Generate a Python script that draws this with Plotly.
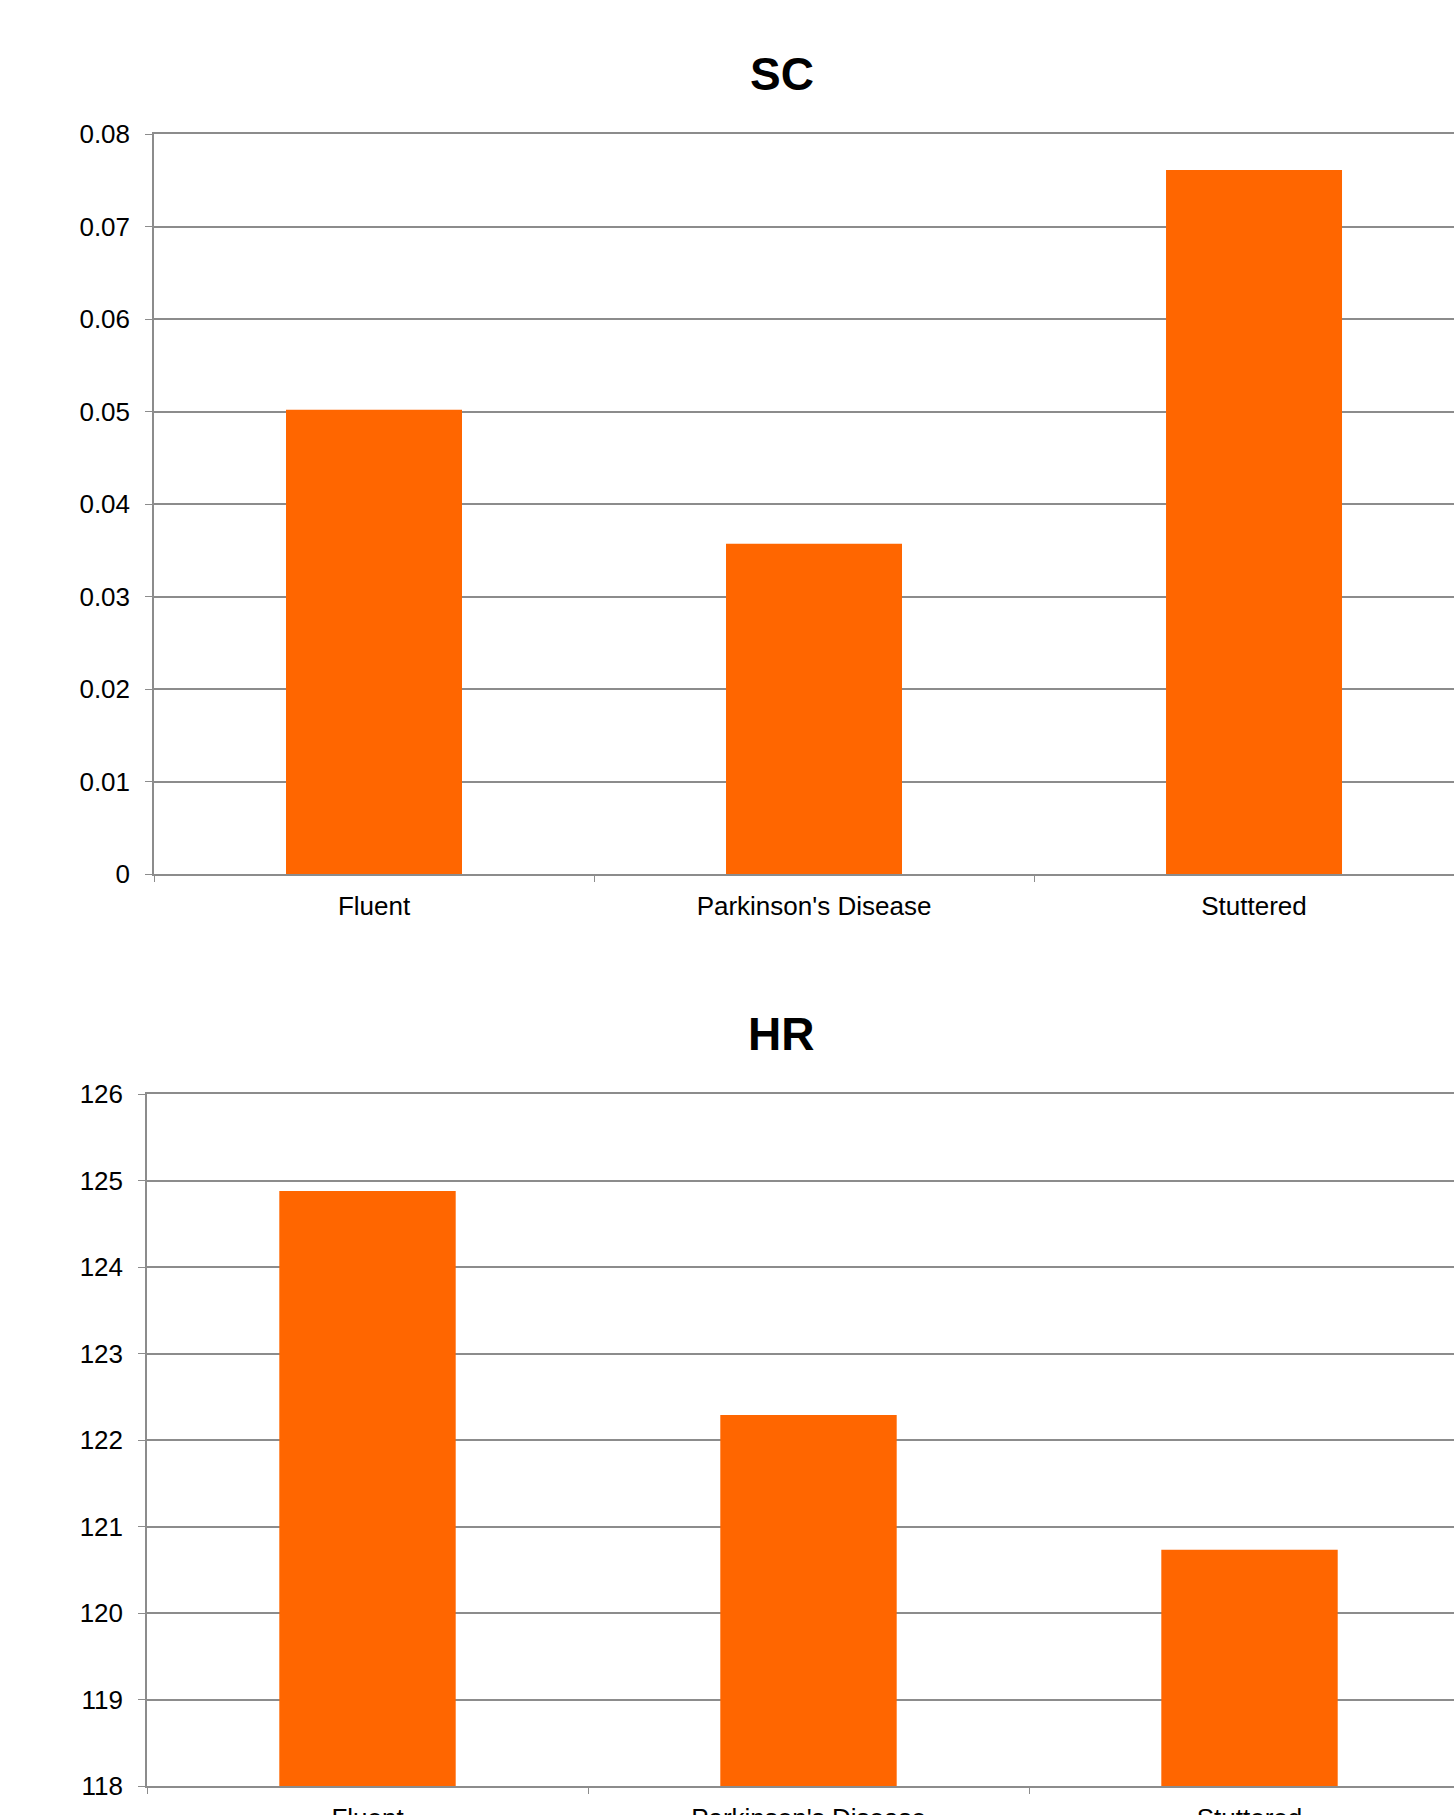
import plotly.graph_objects as go

categories = ["Fluent", "Parkinson's Disease", "Stuttered"]
sc_values = [0.0502, 0.0357, 0.0761]
hr_values = [124.88, 122.29, 120.73]
sc_ticks = [0, 0.01, 0.02, 0.03, 0.04, 0.05, 0.06, 0.07, 0.08]
sc_ticktext = ["0", "0.01", "0.02", "0.03", "0.04", "0.05", "0.06", "0.07", "0.08"]
hr_ticks = [118, 119, 120, 121, 122, 123, 124, 125, 126]

W, H = 1454, 1815
BAR = "#FF6600"
GRID = "#8c8c8c"
FONT = "Liberation Sans, Arial, sans-serif"

fig = go.Figure()
fig.add_trace(go.Bar(x=categories, y=sc_values, marker=dict(color=BAR, line=dict(width=0)),
                     width=0.4, xaxis="x", yaxis="y", showlegend=False))
fig.add_trace(go.Bar(x=categories, y=hr_values, marker=dict(color=BAR, line=dict(width=0)),
                     width=0.4, xaxis="x2", yaxis="y2", showlegend=False))

def xaxis(left, rng, anchor):
    return dict(domain=[left / W, 1], range=rng, type="category", anchor=anchor,
                showgrid=False, showline=True, mirror=True, linecolor=GRID, linewidth=1.5,
                ticks="outside", tickson="boundaries", ticklen=6, tickwidth=1,
                tickcolor=GRID, tickfont=dict(size=26, color="#000", family=FONT),
                ticklabelstandoff=8, automargin=False, fixedrange=True)

def yaxis(top, bottom, rng, tv, tt, anchor):
    return dict(domain=[1 - bottom / H, 1 - top / H], range=rng, anchor=anchor,
                tickvals=tv, ticktext=tt, showgrid=True, gridcolor=GRID, gridwidth=1.5,
                showline=True, linecolor=GRID, linewidth=1.5, zeroline=False,
                ticks="outside", ticklen=7, tickwidth=1, tickcolor=GRID,
                tickfont=dict(size=26, color="#000", family=FONT),
                ticklabelstandoff=10, automargin=False, fixedrange=True)

fig.update_layout(
    width=W, height=H,
    margin=dict(l=0, r=0, t=0, b=0),
    paper_bgcolor="white", plot_bgcolor="white",
    font=dict(family=FONT, color="#000"),
    xaxis=xaxis(154, [-0.5, 2.4545], "y"),
    yaxis=yaxis(134, 874, [0, 0.08], sc_ticks, sc_ticktext, "x"),
    xaxis2=xaxis(147, [-0.5, 2.4637], "y2"),
    yaxis2=yaxis(1094, 1786, [118, 126], hr_ticks, [str(t) for t in hr_ticks], "x2"),
    annotations=[
        dict(text="<b>SC</b>", x=782 / W, y=1 - 74 / H, xref="paper", yref="paper",
             showarrow=False, font=dict(size=46, family=FONT, color="#000"),
             xanchor="center", yanchor="middle"),
        dict(text="<b>HR</b>", x=781 / W, y=1 - 1034 / H, xref="paper", yref="paper",
             showarrow=False, font=dict(size=46, family=FONT, color="#000"),
             xanchor="center", yanchor="middle"),
    ],
)

fig.write_html("out.html")
